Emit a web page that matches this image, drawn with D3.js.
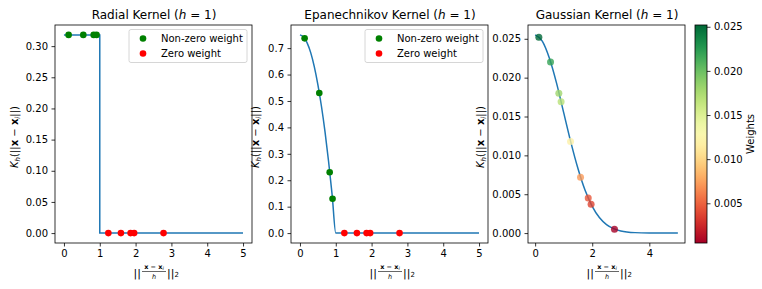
<!DOCTYPE html>
<html>
<head>
<meta charset="utf-8">
<script src="https://cdnjs.cloudflare.com/ajax/libs/d3/7.8.5/d3.min.js"></script>
<style>
  body { margin: 0; background: #fff; }
  text { font-family: "DejaVu Sans", sans-serif; fill: #000; }
</style>
</head>
<body>
<script>
// distances of the sample points ||(x - x_i)/h||_2
const dist = [0.13, 0.54, 0.83, 0.91, 1.24, 1.59, 1.86, 1.96, 2.78]
const radialW = [0.318, 0.318, 0.318, 0.318, 0, 0, 0, 0, 0]
const epanW = [0.737, 0.53, 0.23, 0.13, 0, 0, 0, 0, 0]
const gaussW = [0.0252, 0.0220, 0.0180, 0.0169, 0.0118, 0.0072, 0.0045, 0.0037, 0.0005]

// kernel curves
const radialCurveX = [0, 1, 1, 5]
const radialCurveY = [0.318, 0.318, 0, 0]
const epanCurveX = [0, 0.1, 0.2, 0.3, 0.4, 0.5, 0.6, 0.7, 0.8, 0.9, 1.0, 5]
const epanCurveY = [0.75, 0.742, 0.72, 0.683, 0.63, 0.562, 0.48, 0.383, 0.27, 0.143, 0, 0]
const gaussCurveX = [0, 0.25, 0.5, 0.75, 1, 1.25, 1.5, 1.75, 2, 2.25, 2.5, 2.75, 3, 3.5, 4, 4.5, 5]
const gaussCurveY = [0.0255, 0.0247, 0.0225, 0.0193, 0.0155, 0.0117, 0.0083, 0.0055, 0.00345,
    0.0020, 0.0011, 0.00058, 0.00028, 0.00006, 0.00001, 0, 0]

const radialTicksY = [0, 0.05, 0.10, 0.15, 0.20, 0.25, 0.30]
const epanTicksY = [0, 0.1, 0.2, 0.3, 0.4, 0.5, 0.6, 0.7]
const gaussTicksY = [0, 0.005, 0.010, 0.015, 0.020, 0.025]
const cbarTicks = [0.005, 0.010, 0.015, 0.020, 0.025]

const legendLabels = ['Non-zero weight', 'Zero weight']

const dimensions = { width: 762, height: 289 }

const svg = d3.select('body').append('svg')
    .attr('width', dimensions.width)
    .attr('height', dimensions.height)

const plotTop = 25, plotBottom = 243

const colorScale = d3.scaleSequential(d3.interpolateRdYlGn)
    .domain([d3.min(gaussW), d3.max(gaussW)])

function drawPanel(p) {
    const g = svg.append('g')
    const x = d3.scaleLinear().domain([-0.25, 5.25]).range([p.left, p.right])
    const ymax = d3.max(p.curveY)
    const y = d3.scaleLinear().domain([-0.05 * ymax, 1.05 * ymax]).range([plotBottom, plotTop])

    g.append('g')
        .attr('transform', `translate(0,${plotBottom})`)
        .call(d3.axisBottom(x).tickValues(p.ticksX).tickFormat(d3.format('d'))
            .tickSize(3.5).tickPadding(3.5).tickSizeOuter(0))
    g.append('g')
        .attr('transform', `translate(${p.left},0)`)
        .call(d3.axisLeft(y).tickValues(p.ticksY).tickFormat(d3.format(p.fmt))
            .tickSize(3.5).tickPadding(3.5).tickSizeOuter(0))
    g.selectAll('.domain').remove()
    g.selectAll('.tick line').attr('stroke', '#000').attr('stroke-width', 0.8)
    g.selectAll('.tick text').attr('font-size', 10).attr('font-family', 'DejaVu Sans')

    // curve
    const line = d3.line()
        .x(function (d) { return x(d[0]) })
        .y(function (d) { return y(d[1]) })
        .curve(p.curve)
    g.append('path')
        .datum(d3.zip(p.curveX, p.curveY))
        .attr('d', line)
        .attr('fill', 'none')
        .attr('stroke', '#1f77b4')
        .attr('stroke-width', 1.5)

    // points
    g.selectAll('.pt')
        .data(d3.zip(dist, p.w))
        .enter()
        .append('circle')
        .attr('cx', function (d) { return x(d[0]) })
        .attr('cy', function (d) { return y(d[1]) })
        .attr('r', p.colored ? 3.5 : 3.3)
        .attr('fill', function (d) {
            if (p.colored) return colorScale(d[1])
            return d[1] > 0 ? 'green' : 'red'
        })
        .attr('opacity', p.colored ? 0.8 : 1)

    // frame
    g.append('rect')
        .attr('x', p.left).attr('y', plotTop)
        .attr('width', p.right - p.left).attr('height', plotBottom - plotTop)
        .attr('fill', 'none').attr('stroke', '#000').attr('stroke-width', 0.8)

    // title
    const cx = Math.round((p.left + p.right) / 2)
    const t = g.append('text').attr('x', cx).attr('y', 19)
        .attr('text-anchor', 'middle').attr('font-size', 12)
    t.append('tspan').text(p.title + ' (')
    t.append('tspan').attr('font-style', 'italic').text('h')
    t.append('tspan').text(' = 1)')

    // y label
    const yl = g.append('text')
        .attr('transform', `translate(${p.left - p.ylabOff},137) rotate(-90)`)
        .attr('text-anchor', 'middle').attr('font-size', 10)
    yl.append('tspan').attr('font-style', 'italic').text('K')
    yl.append('tspan').attr('font-style', 'italic').attr('font-size', 7).attr('dy', 2).text('h')
    yl.append('tspan').attr('dy', -2).text('(||')
    yl.append('tspan').attr('font-weight', 'bold').text('x')
    yl.append('tspan').text(' − ')
    yl.append('tspan').attr('font-weight', 'bold').text('x')
    yl.append('tspan').attr('font-style', 'italic').attr('font-size', 7).attr('dy', 2).text('i')
    yl.append('tspan').attr('dy', -2).text('||)')

    // x label: ||(x - x_i)/h||_2
    const xl = g.append('g')
    xl.append('text').attr('x', cx - 13).attr('y', 277).attr('text-anchor', 'end')
        .attr('font-size', 11).text('||')
    const num = xl.append('text').attr('x', cx).attr('y', 268.5).attr('text-anchor', 'middle')
        .attr('font-size', 6.5).attr('font-weight', 'bold')
    num.append('tspan').text('x − x')
    num.append('tspan').attr('font-size', 5).attr('font-weight', 'normal')
        .attr('font-style', 'italic').attr('dy', 1.5).text('i')
    xl.append('line').attr('x1', cx - 12).attr('x2', cx + 12).attr('y1', 271.5).attr('y2', 271.5)
        .attr('stroke', '#000').attr('stroke-width', 0.6)
    xl.append('text').attr('x', cx).attr('y', 279).attr('text-anchor', 'middle')
        .attr('font-size', 6.5).attr('font-style', 'italic').text('h')
    const tail = xl.append('text').attr('x', cx + 13).attr('y', 277).attr('font-size', 11)
    tail.append('tspan').text('||')
    tail.append('tspan').attr('font-size', 7).text('2')

    // legend
    if (p.legend) {
        const lx = p.right - 123
        const lg = g.append('g')
        lg.append('rect')
            .attr('x', lx).attr('y', 29.5).attr('width', 118).attr('height', 33)
            .attr('rx', 2).attr('fill', '#fff').attr('fill-opacity', 0.8)
            .attr('stroke', '#ccc').attr('stroke-width', 0.8)
        lg.selectAll('.lm')
            .data(legendLabels)
            .enter()
            .append('circle')
            .attr('cx', lx + 14)
            .attr('cy', function (d, i) { return 38.5 + i * 15 })
            .attr('r', 3.3)
            .attr('fill', function (d, i) { return i === 0 ? 'green' : 'red' })
        lg.selectAll('.lt')
            .data(legendLabels)
            .enter()
            .append('text')
            .attr('x', lx + 32)
            .attr('y', function (d, i) { return 42 + i * 15 })
            .attr('font-size', 10)
            .text(function (d) { return d })
    }
}

drawPanel({
    left: 55, right: 252, title: 'Radial Kernel',
    curveX: radialCurveX, curveY: radialCurveY, curve: d3.curveLinear,
    w: radialW, ticksX: [0, 1, 2, 3, 4, 5], ticksY: radialTicksY, fmt: '.2f',
    ylabOff: 37, legend: true, colored: false
})
drawPanel({
    left: 291, right: 488, title: 'Epanechnikov Kernel',
    curveX: epanCurveX, curveY: epanCurveY, curve: d3.curveMonotoneX,
    w: epanW, ticksX: [0, 1, 2, 3, 4, 5], ticksY: epanTicksY, fmt: '.1f',
    ylabOff: 32, legend: true, colored: false
})
drawPanel({
    left: 528, right: 685, title: 'Gaussian Kernel',
    curveX: gaussCurveX, curveY: gaussCurveY, curve: d3.curveMonotoneX,
    w: gaussW, ticksX: [0, 2, 4], ticksY: gaussTicksY, fmt: '.3f',
    ylabOff: 44.5, legend: false, colored: true
})

// colorbar
const cbLeft = 695, cbRight = 707
const cbY = d3.scaleLinear().domain(colorScale.domain()).range([plotBottom, plotTop])
const defs = svg.append('defs')
const grad = defs.append('linearGradient').attr('id', 'cbgrad')
    .attr('x1', 0).attr('x2', 0).attr('y1', 1).attr('y2', 0)
d3.range(0, 1.0001, 0.05).forEach(function (t) {
    grad.append('stop').attr('offset', t).attr('stop-color', d3.interpolateRdYlGn(t))
})
svg.append('rect')
    .attr('x', cbLeft).attr('y', plotTop)
    .attr('width', cbRight - cbLeft).attr('height', plotBottom - plotTop)
    .attr('fill', 'url(#cbgrad)')
    .attr('stroke', '#000').attr('stroke-width', 0.8)
const cbAxis = svg.append('g')
    .attr('transform', `translate(${cbRight},0)`)
    .call(d3.axisRight(cbY).tickValues(cbarTicks).tickFormat(d3.format('.3f'))
        .tickSize(3.5).tickPadding(3.5).tickSizeOuter(0))
cbAxis.select('.domain').remove()
cbAxis.selectAll('.tick line').attr('stroke', '#000').attr('stroke-width', 0.8)
cbAxis.selectAll('.tick text').attr('font-size', 10).attr('font-family', 'DejaVu Sans')
svg.append('text')
    .attr('transform', `translate(754,${(plotTop + plotBottom) / 2}) rotate(-90)`)
    .attr('text-anchor', 'middle').attr('font-size', 10)
    .text('Weights')
</script>
</body>
</html>
